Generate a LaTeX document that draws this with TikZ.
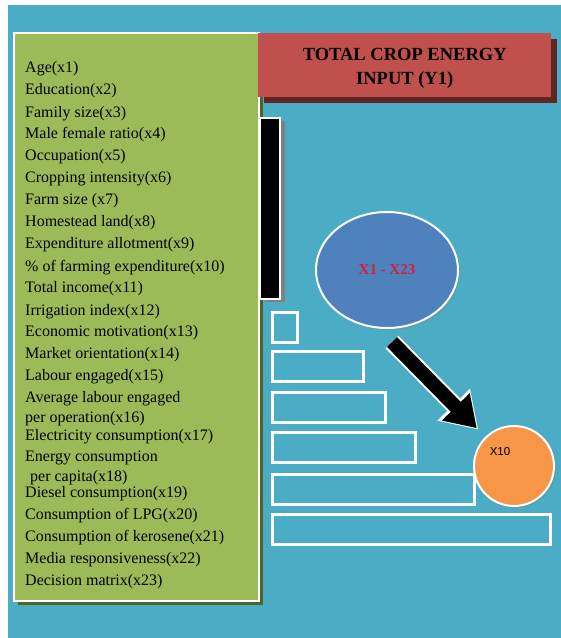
\documentclass[tikz,border=0pt]{standalone}
\usepackage{fontspec}
\setmainfont{Liberation Serif}
\setsansfont{Liberation Sans}
\usetikzlibrary{positioning,shapes.geometric,shadows,arrows.meta}

\definecolor{bgblue}{HTML}{4BACC6}
\definecolor{boxgreen}{HTML}{9BBB59}
\definecolor{shadegreen}{HTML}{4F6228}
\definecolor{boxred}{HTML}{C0504D}
\definecolor{shadered}{HTML}{632523}
\definecolor{ovalblue}{HTML}{4F81BD}
\definecolor{dotorange}{HTML}{F79646}
\definecolor{textred}{HTML}{D0203C}

\begin{document}
\begin{tikzpicture}[x=1pt,y=-1pt,
    varbox/.style={draw=white, line width=2pt, fill=boxgreen, anchor=north west,
      inner sep=0pt, minimum width=245pt, minimum height=568pt,
      drop shadow={shadow xshift=4pt, shadow yshift=-4pt, fill=shadegreen, opacity=1}},
    vartext/.style={anchor=west, inner sep=0pt, text height=11pt, text depth=4pt,
      font=\fontsize{16}{18}\selectfont},
    titlebox/.style={fill=boxred, anchor=north west, minimum width=293pt, minimum height=64pt,
      align=center, font=\fontsize{18.5}{24}\selectfont\bfseries,
      drop shadow={shadow xshift=6pt, shadow yshift=-6pt, fill=shadered, opacity=1}},
    blackbar/.style={fill=black, draw=white, line width=2pt, anchor=north west, inner sep=0pt,
      minimum width=20pt, minimum height=181pt,
      drop shadow={shadow xshift=5pt, shadow yshift=-3pt, fill=gray, opacity=1}},
    bar/.style={draw=white, line width=3pt, anchor=north west, inner sep=0pt, minimum height=30pt},
    oval/.style={ellipse, fill=ovalblue, draw=white, line width=2pt, minimum width=142pt,
      minimum height=116pt, text=textred, font=\fontsize{15}{18}\selectfont\bfseries,
      drop shadow={shadow xshift=2pt, shadow yshift=-2pt, opacity=0.3}},
    dot/.style={circle, fill=dotorange, draw=white, line width=2pt, minimum size=80pt,
      drop shadow={shadow xshift=2pt, shadow yshift=-2pt, opacity=0.3}},
    bigarrow/.style={line width=14pt, -{Triangle[width=37pt, length=30pt]}},
  ]
  % Background
  \useasboundingbox (0,0) rectangle (561,638);
  \fill[white] (0,0) rectangle (561,638);
  \fill[bgblue] (8,5) rectangle (561,638);

  % Define nodes
  \node[varbox] (vars) at (13,32) {};
  \node[titlebox] (total) at (258,33) {};
  \node[font=\fontsize{18.5}{24}\selectfont\bfseries, align=center] (title) at ([yshift=-3pt]total.center) {TOTAL CROP ENERGY\\INPUT (Y1)};
  \node[blackbar] (black) at (259,117) {};

  \foreach \top/\w [count=\i] in {311/25, 350/91, 391/113, 431/143, 473/202, 513/278}
    \node[bar, minimum width=\w pt] (bar\i) at (271,\top) {};

  \foreach \y/\t [count=\i] in {68/Age(x1), 90/Education(x2), 113/Family size(x3),
      134/Male female ratio(x4), 156/Occupation(x5), 178/Cropping intensity(x6),
      200/Farm size (x7), 222/Homestead land(x8), 244/Expenditure allotment(x9),
      267/\% of farming expenditure(x10), 288/Total income(x11), 311/Irrigation index(x12),
      332/Economic motivation(x13), 354/Market orientation(x14), 376/Labour engaged(x15),
      398/Average labour engaged, 418/per operation(x16), 436/Electricity consumption(x17),
      457/Energy consumption, 493/Diesel consumption(x19), 515/Consumption of LPG(x20),
      537/Consumption of kerosene(x21), 559/Media responsiveness(x22), 581/Decision matrix(x23)}
    \node[vartext] (var\i) at (25,\y+1) {\t};
  \node[vartext] (capita) at (30,478) {per capita(x18)};

  \node[oval] (xall) at (387,270) {X1 - X23};
  \node[dot] (xten) at (514,466) {};
  \node[font=\sffamily\fontsize{11.5}{13}\selectfont, inner sep=0pt] (xtenlabel) at (500,452) {X10};

  % Connect the nodes
  \coordinate (tail) at (392,342);
  \draw[bigarrow, white, line width=18pt, -{Triangle[width=43pt, length=35pt]}, shorten >=10pt] (tail) -- (xten);
  \draw[bigarrow, shorten >=12pt] (tail) -- (xten);
\end{tikzpicture}
\end{document}
